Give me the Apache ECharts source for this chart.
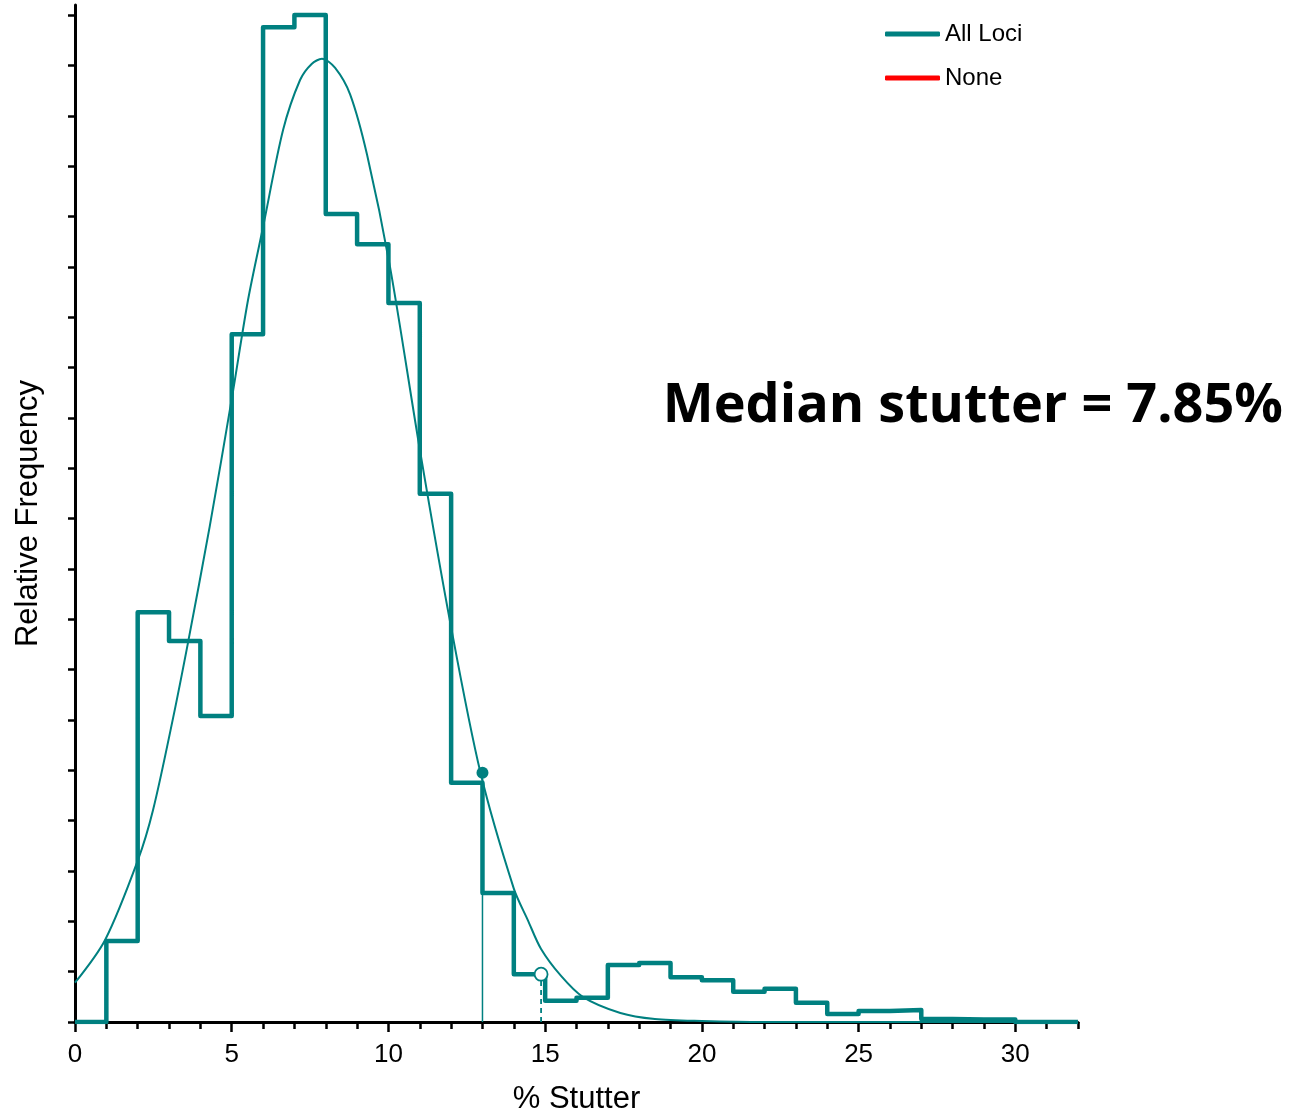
<!DOCTYPE html>
<html>
<head>
<meta charset="utf-8">
<script src="https://cdn.jsdelivr.net/npm/echarts@6/dist/echarts.min.js"></script>
<style>html,body{margin:0;padding:0;background:#fff;}#main{width:1295px;height:1117px;}</style>
</head>
<body>
<div id="main"></div>
<script>
// Histogram bin edges (left edges) and relative frequencies
const binEdges = [0,1,2,3,4,5,6,7,8,9,10,11,12,13,14,15,16,17,18,19,20,21,22,23,24,25,26,27,28,29,30,31];
const binValues = [0,1.61,8.14,7.57,6.08,13.66,19.76,20.0,16.05,15.45,14.28,10.49,4.75,2.56,0.95,0.42,0.48,1.13,1.17,0.89,0.83,0.60,0.66,0.38,0.16,0.22,0.24,0.06,0.05,0.05,0.0,0.0];
const xMaxEdge = 32;
// Fitted curve
const curveX = [0,0.96,2.01,2.49,3.13,3.61,4.3,5.01,5.52,6.0,6.64,7.18,7.55,7.88,8.3,8.78,9.32,10.05,11.01,11.97,12.93,14.0,14.45,14.87,15.5,16.2,17.4,18.5,20,22,32];
const curveY = [0.78,1.63,3.22,4.21,6.04,7.55,9.85,12.41,14.34,15.79,17.72,18.71,19.03,19.13,18.95,18.42,17.22,15.0,11.34,7.94,4.97,2.65,2.02,1.45,0.92,0.5,0.18,0.06,0.02,0.0,0.0];
// Marker points
const markA = [13, 4.95];
const markB = [14.87, 0.95];
const xTickLabels = [0,5,10,15,20,25,30];
const xMinorTicks = [0,1,2,3,4,5,6,7,8,9,10,11,12,13,14,15,16,17,18,19,20,21,22,23,24,25,26,27,28,29,30,31,32];
const yTicks = [0,1,2,3,4,5,6,7,8,9,10,11,12,13,14,15,16,17,18,19,20];
const seriesNames = ['All Loci','None'];
const annotation = 'Median stutter = 7.85%';

const teal = '#008080';
const stepData = binEdges.map((e,i)=>[e, binValues[i]]);
stepData.push([xMaxEdge, binValues[binValues.length-1]]);
const curveData = curveX.map((x,i)=>[x, curveY[i]]);

const chart = echarts.init(document.getElementById('main'), null, {renderer:'canvas'});
chart.setOption({
  animation:false,
  backgroundColor:'#fff',
  grid:{left:75, right:217, top:5, bottom:95, containLabel:false, outerBoundsMode:'none'},
  legend:{
    orient:'vertical', left:880, top:17, itemWidth:55, itemHeight:5, itemGap:20,
    icon:'roundRect',
    textStyle:{fontFamily:'Liberation Sans, Arial', fontSize:24, color:'#000', lineHeight:24},
    data:seriesNames
  },
  xAxis:[{
    type:'value', min:0, max:32, interval:1,
    name:'% Stutter', nameLocation:'middle', nameGap:62,
    nameTextStyle:{fontFamily:'Liberation Sans, Arial', fontSize:31, color:'#000'},
    axisLine:{show:true, lineStyle:{color:'#000', width:3}},
    axisTick:{show:true, customValues:xMinorTicks, length:7, lineStyle:{color:'#000', width:2.5}},
    axisLabel:{show:true, customValues:xTickLabels, margin:20, fontFamily:'Liberation Sans, Arial', fontSize:26, color:'#000'},
    splitLine:{show:false}
  },{
    type:'value', min:0, max:32, position:'bottom',
    axisLine:{show:false},
    axisTick:{show:true, customValues:xTickLabels, length:10, lineStyle:{color:'#000', width:2.5}},
    axisLabel:{show:false},
    splitLine:{show:false}
  }],
  yAxis:{
    type:'value', min:0, max:20.2,
    name:'Relative Frequency', nameLocation:'middle', nameGap:31,
    nameTextStyle:{fontFamily:'Liberation Sans, Arial', fontSize:31, color:'#000'},
    axisLine:{show:true, lineStyle:{color:'#000', width:3}},
    axisTick:{show:true, customValues:yTicks, length:7, lineStyle:{color:'#000', width:2.5}},
    axisLabel:{show:false},
    splitLine:{show:false}
  },
  series:[
    {name:'All Loci', type:'line', step:'end', data:stepData, showSymbol:false, symbol:'none',
     lineStyle:{color:teal, width:4.5, join:'round'}, itemStyle:{color:teal}, z:2},
    {name:'None', type:'line', data:[], symbol:'none', lineStyle:{color:'#ff0000', width:4}, itemStyle:{color:'#ff0000'}},
    {name:'curve', type:'line', data:curveData, smooth:0.3, symbol:'none',
     lineStyle:{color:teal, width:2}, z:3},
    {name:'vA', type:'line', data:[[markA[0],0], markA], symbol:'none', lineStyle:{color:teal, width:1.5}, z:3},
    {name:'vB', type:'line', data:[[markB[0],0], markB], symbol:'none', lineStyle:{color:teal, width:1.8, type:[5,4]}, z:3},
    {name:'mA', type:'scatter', data:[markA], symbol:'circle', symbolSize:12, itemStyle:{color:teal, opacity:1}, z:5},
    {name:'mB', type:'scatter', data:[markB], symbol:'circle', symbolSize:13, itemStyle:{color:'#ffffff', opacity:1, borderColor:teal, borderWidth:1.8}, z:5}
  ],
  graphic:[{
    type:'text', x:1283, y:407,
    style:{text:annotation, align:'right', verticalAlign:'middle', fill:'#000', font:'bold 54px "Open Sans", "Noto Sans", sans-serif'}
  }]
});
</script>
</body>
</html>
